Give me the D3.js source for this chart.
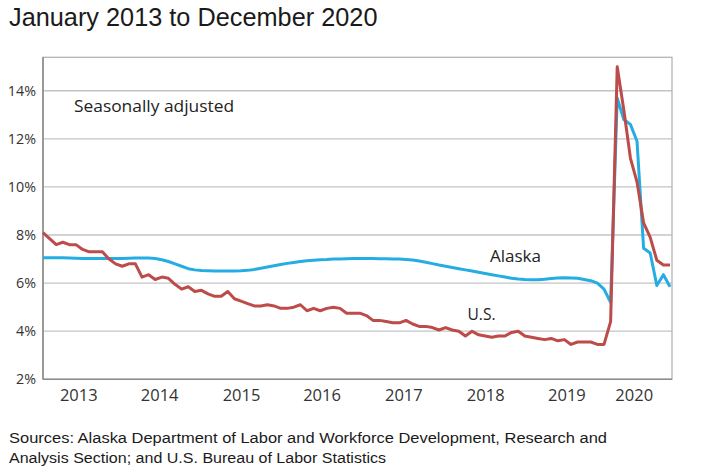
<!DOCTYPE html>
<html><head><meta charset="utf-8">
<script src="https://cdn.jsdelivr.net/npm/d3@7"></script>
<style>body{margin:0;background:#fff}svg{display:block}</style>
</head><body>
<svg id="c" width="701" height="473"></svg>
<script>
const years = ["2013","2014","2015","2016","2017","2018","2019","2020"];
const yearLabelMonth = [5.35, 17.6, 30.0, 42.2, 54.6, 67.0, 79.3, 89.5];
const yTicks = [2,4,6,8,10,12,14];
const alaska = [
 7.05,7.05,7.05,7.05,7.04,7.03,7.02,7.02,7.02,7.02,7.02,7.02,
 7.02,7.03,7.04,7.04,7.04,7.02,6.97,6.9,6.8,6.7,6.6,6.55,
 6.52,6.51,6.5,6.5,6.5,6.5,6.51,6.53,6.57,6.62,6.67,6.72,
 6.77,6.82,6.86,6.9,6.93,6.95,6.97,6.98,7.0,7.0,7.01,7.02,
 7.02,7.02,7.02,7.01,7.01,7.0,7.0,6.98,6.96,6.92,6.87,6.81,
 6.75,6.7,6.65,6.6,6.55,6.5,6.45,6.4,6.35,6.3,6.25,6.2,
 6.17,6.15,6.14,6.14,6.16,6.19,6.21,6.22,6.21,6.2,6.15,6.1,
 6.0,5.75,5.2,13.7,12.8,12.6,11.9,7.45,7.25,5.9,6.35,5.85
];
const us = [
 8.1,7.85,7.6,7.7,7.6,7.6,7.4,7.3,7.3,7.3,7.0,6.8,
 6.7,6.8,6.8,6.25,6.35,6.15,6.25,6.2,5.95,5.75,5.85,5.65,
 5.7,5.55,5.45,5.45,5.65,5.35,5.25,5.15,5.05,5.05,5.1,5.05,
 4.95,4.95,5.0,5.1,4.85,4.95,4.85,4.95,5.0,4.95,4.75,4.75,
 4.75,4.65,4.45,4.45,4.4,4.35,4.35,4.45,4.3,4.2,4.2,4.15,
 4.05,4.15,4.05,4.0,3.8,4.0,3.85,3.8,3.75,3.8,3.8,3.95,
 4.0,3.8,3.75,3.7,3.65,3.7,3.6,3.65,3.45,3.55,3.55,3.55,
 3.45,3.45,4.4,15.0,13.2,11.2,10.2,8.5,7.9,6.95,6.75,6.75
];

const svg = d3.select("#c");
const L = 43, R = 672, T = 57.3, B = 379.3;
const x = d3.scaleLinear().domain([0, 95.3]).range([L, R]);
const y = d3.scaleLinear().domain([2, 15.39]).range([B, T]);

// gridlines
svg.append("g").selectAll("line").data(yTicks.filter(d => d > 2)).join("line")
  .attr("x1", L).attr("x2", R).attr("y1", d => y(d)).attr("y2", d => y(d))
  .attr("stroke", "#c4c4c4").attr("stroke-width", 1.3);
// frame
svg.append("rect").attr("x", L).attr("y", T).attr("width", R - L).attr("height", B - T)
  .attr("fill", "none").attr("stroke", "#b4b4b4").attr("stroke-width", 1.3);
svg.append("line").attr("x1", L).attr("x2", L).attr("y1", T).attr("y2", B)
  .attr("stroke", "#8c8c8c").attr("stroke-width", 1.6);
svg.append("line").attr("x1", L).attr("x2", R).attr("y1", B).attr("y2", B)
  .attr("stroke", "#8c8c8c").attr("stroke-width", 1.6);

// y axis labels
const yAxis = d3.axisLeft(y).tickValues(yTicks).tickSize(0).tickPadding(7).tickFormat(d => d + "%");
const gy = svg.append("g").attr("transform", `translate(${L},0)`).call(yAxis);
gy.select(".domain").remove();
gy.selectAll("text").attr("font-family", "Open Sans").attr("font-size", 14.3).attr("fill", "#333");

// x axis labels
const xAxis = d3.axisBottom(x).tickValues(yearLabelMonth).tickSize(0).tickPadding(10)
  .tickFormat((d, i) => years[i]);
const gx = svg.append("g").attr("transform", `translate(0,${B})`).call(xAxis);
gx.select(".domain").remove();
gx.selectAll("text").attr("font-family", "Open Sans").attr("font-size", 16.5).attr("fill", "#333");

const line = d3.line().x((d, i) => x(i)).y(d => y(d)).curve(d3.curveLinear);
svg.append("path").datum(alaska).attr("d", line).attr("fill", "none")
  .attr("stroke", "#25ade3").attr("stroke-width", 3).attr("stroke-linejoin", "round");
svg.append("path").datum(us).attr("d", line).attr("fill", "none")
  .attr("stroke", "#bd4b49").attr("stroke-width", 3).attr("stroke-linejoin", "round");

// annotations
svg.append("text").attr("x", 74).attr("y", 111.7).text("Seasonally adjusted")
  .attr("font-family", "Open Sans").attr("font-size", 16).attr("fill", "#222")
  .attr("textLength", 160).attr("lengthAdjust", "spacingAndGlyphs");
svg.append("text").attr("x", 490).attr("y", 261.7).text("Alaska")
  .attr("font-family", "Open Sans").attr("font-size", 16).attr("fill", "#222")
  .attr("textLength", 51).attr("lengthAdjust", "spacingAndGlyphs");
svg.append("text").attr("x", 467.5).attr("y", 320).text("U.S.")
  .attr("font-family", "Open Sans").attr("font-size", 16).attr("fill", "#222")
  .attr("textLength", 28).attr("lengthAdjust", "spacingAndGlyphs");

// title
svg.append("text").attr("x", 9).attr("y", 26).text("January 2013 to December 2020")
  .attr("font-family", "Liberation Sans").attr("font-size", 25.3).attr("fill", "#1a1a1a");

// sources
svg.append("text").attr("x", 9).attr("y", 443).text("Sources: Alaska Department of Labor and Workforce Development, Research and")
  .attr("font-family", "Liberation Sans").attr("font-size", 15.5).attr("fill", "#1a1a1a")
  .attr("textLength", 598).attr("lengthAdjust", "spacingAndGlyphs");
svg.append("text").attr("x", 9).attr("y", 463).text("Analysis Section; and U.S. Bureau of Labor Statistics")
  .attr("font-family", "Liberation Sans").attr("font-size", 15.5).attr("fill", "#1a1a1a")
  .attr("textLength", 377).attr("lengthAdjust", "spacingAndGlyphs");
</script>
</body></html>
